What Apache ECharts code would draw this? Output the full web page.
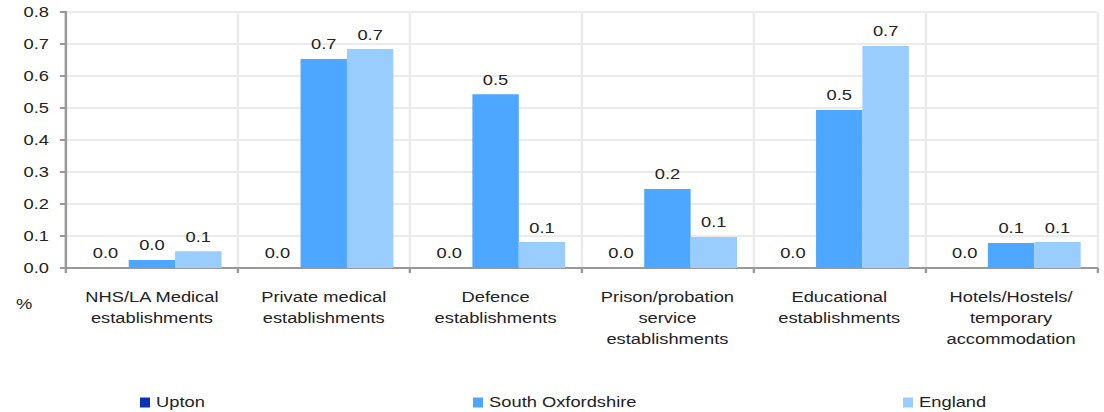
<!DOCTYPE html>
<html>
<head>
<meta charset="utf-8">
<script src="https://cdn.jsdelivr.net/npm/echarts@6/dist/echarts.min.js"></script>
<style>
html,body{margin:0;padding:0;background:#fff;overflow:hidden}
#wrap{width:1104px;height:412px;overflow:hidden}
#c{width:905px;height:412px;transform:scaleX(1.2199);transform-origin:0 0}
</style>
</head>
<body>
<div id="wrap"><div id="c"></div></div>
<script>
const categories = ["NHS/LA Medical\nestablishments","Private medical\nestablishments","Defence\nestablishments","Prison/probation\nservice\nestablishments","Educational\nestablishments","Hotels/Hostels/\ntemporary\naccommodation"];
const upton = [0, 0, 0, 0, 0, 0];
const southOxfordshire = [0.025, 0.653, 0.543, 0.247, 0.494, 0.078];
const england = [0.052, 0.684, 0.081, 0.097, 0.694, 0.081];
const seriesNames = ["Upton", "South Oxfordshire", "England"];
const colors = ["#0a32b4", "#4da6ff", "#99ccff"];
const font = "Liberation Sans, Arial, sans-serif";
const S = 1.2199; // horizontal stretch of the reference rendering

const chart = echarts.init(document.getElementById('c'), null, {renderer: 'svg'});
const mk = (name, data, color) => ({
  name, type: 'bar', data, barGap: '0%', barCategoryGap: '19%',
  itemStyle: {color},
  label: {show: true, position: 'top', distance: 7, color: '#222', fontSize: 15, fontFamily: font,
    formatter: p => p.value.toFixed(1)},
  emphasis: {disabled: true}
});
const legendBase = {
  top: 395, padding: 0, itemWidth: 10 / S, itemHeight: 10, itemGap: 0, icon: 'rect',
  textStyle: {fontSize: 15, color: '#222', fontFamily: font}, selectedMode: false
};
chart.setOption({
  animation: false,
  color: colors,
  grid: {left: 66 / S, right: 7 / S, top: 12, bottom: 144},
  legend: [
    Object.assign({left: 140 / S, data: [seriesNames[0]]}, legendBase),
    Object.assign({left: 473 / S, data: [seriesNames[1]]}, legendBase),
    Object.assign({left: 903 / S, data: [seriesNames[2]]}, legendBase)
  ],
  graphic: [{type: 'text', left: 16 / S, top: 297, style: {text: '%', fontSize: 15, fill: '#222', fontFamily: font}}],
  xAxis: {
    type: 'category', data: categories,
    axisLine: {lineStyle: {color: '#999', width: 2}},
    axisTick: {show: true, length: 5, lineStyle: {color: '#999', width: 2}},
    splitLine: {show: true, lineStyle: {color: '#ebebeb', width: 2}},
    axisLabel: {fontSize: 15, color: '#222', fontFamily: font, lineHeight: 21, margin: 19, interval: 0}
  },
  yAxis: {
    type: 'value', min: 0, max: 0.8, interval: 0.1,
    axisLine: {show: true, lineStyle: {color: '#999', width: 2}},
    axisTick: {show: true, length: 5, lineStyle: {color: '#999', width: 2}},
    splitLine: {show: true, lineStyle: {color: '#ebebeb', width: 2}},
    axisLabel: {fontSize: 15, color: '#222', fontFamily: font, margin: 14, formatter: v => v.toFixed(1)}
  },
  series: [mk(seriesNames[0], upton, colors[0]), mk(seriesNames[1], southOxfordshire, colors[1]), mk(seriesNames[2], england, colors[2])]
});
</script>
</body>
</html>
